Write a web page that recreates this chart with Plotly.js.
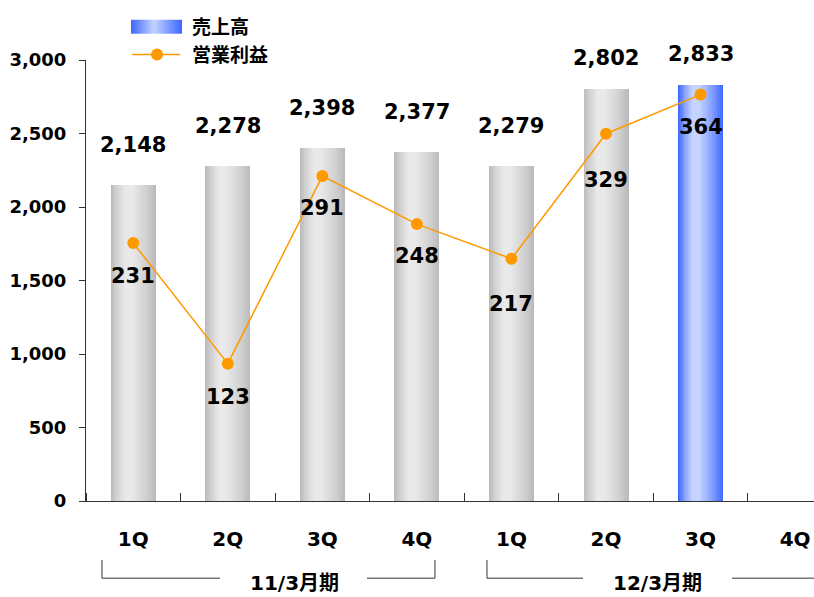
<!DOCTYPE html>
<html><head><meta charset="utf-8">
<script src="https://cdn.plot.ly/plotly-3.0.1.min.js"></script>
<style>html,body{margin:0;padding:0;background:#fff}#chart{width:814px;height:597px}</style>
</head><body><div id="chart"></div>
<script>
// ---- data ----
const quarters = ['1Q','2Q','3Q','4Q','1Q','2Q','3Q','4Q'];
const periods = ['11/3月期','12/3月期'];
const sales = [2148, 2278, 2398, 2377, 2279, 2802, 2833, null];
const profit = [231, 123, 291, 248, 217, 329, 364, null];
const salesName = '売上高';
const profitName = '営業利益';

// ---- style ----
const FONT = '"DejaVu Sans", "Noto Sans CJK JP", sans-serif';
const JFONT = '"Noto Sans CJK JP", sans-serif';
const lastIdx = sales.reduce((a, v, i) => v != null ? i : a, -1);
const idx = quarters.map((_, i) => i);
function lerp(a, b, t) {
  const pa = [1,3,5].map(k => parseInt(a.substr(k,2),16));
  const pb = [1,3,5].map(k => parseInt(b.substr(k,2),16));
  return 'rgb(' + pa.map((v,i)=>Math.round(v+(pb[i]-v)*t)).join(',') + ')';
}
const grayEdge = '#bababa', grayMid = '#e9e9e9';
const blueEdge = '#3d66ff', blueMid = '#c4d3ff';
const W = 0.476, K = 16;
const traces = [];
const groups = [
  {ids: idx.filter(i => sales[i] != null && i !== lastIdx), e: grayEdge, m: grayMid, legend: false},
  {ids: [lastIdx], e: blueEdge, m: blueMid, legend: true}
];
groups.forEach(g => {
  for (let k = 0; k < K; k++) {
    const t = k / (K - 1);
    const w = W * (1 - 0.82 * t);
    const shift = -0.05 * t;
    traces.push({
      type: 'bar', xaxis: 'x', yaxis: 'y',
      x: g.ids, y: g.ids.map(i => sales[i]),
      width: w, offset: -w / 2 + shift,
      marker: {color: lerp(g.e, g.m, Math.pow(t, 0.8)), line: {width: 0}},
      name: salesName,
      showlegend: g.legend && k === Math.round(K * 0.45),
      hoverinfo: 'skip'
    });
  }
});
traces.push({
  type: 'scatter', mode: 'lines+markers', x: idx, y: profit, yaxis: 'y2',
  name: profitName,
  line: {color: '#ff9900', width: 1.5},
  marker: {color: '#ff9900', size: 12}
});

const LBL = {family: FONT, size: 21, color: '#000', weight: 'bold'};
const annotations = [];
sales.forEach((v, i) => {
  if (v == null) return;
  annotations.push({x: i, y: v, xref: 'x', yref: 'y', text: v.toLocaleString('en-US'),
    showarrow: false, yshift: v > 2600 ? 31 : 40, font: LBL});
});
const profitShift = [33, 33, 32, 32, 45, 46, 32];
profit.forEach((v, i) => {
  if (v == null) return;
  annotations.push({x: i, y: v, xref: 'x', yref: 'y2', text: String(v),
    showarrow: false, yshift: -profitShift[i], font: LBL});
});
const periodX = [1.70, 5.54];
periods.forEach((p, j) => {
  annotations.push({x: periodX[j], y: -0.187, xref: 'x', yref: 'paper', yanchor: 'middle', text: p,
    showarrow: false, font: {family: FONT, size: 20, color: '#000', weight: 'bold'}});
});
const ln = {color: '#333', width: 1};
const shapes = [
  {type:'line', xref:'x', yref:'paper', x0:-0.331, x1:-0.331, y0:-0.134, y1:-0.175, line: ln},
  {type:'line', xref:'x', yref:'paper', x0:-0.331, x1:0.917, y0:-0.175, y1:-0.175, line: ln},
  {type:'line', xref:'x', yref:'paper', x0:2.472, x1:3.191, y0:-0.175, y1:-0.175, line: ln},
  {type:'line', xref:'x', yref:'paper', x0:3.191, x1:3.191, y0:-0.134, y1:-0.175, line: ln},
  {type:'line', xref:'x', yref:'paper', x0:3.741, x1:3.741, y0:-0.134, y1:-0.175, line: ln},
  {type:'line', xref:'x', yref:'paper', x0:3.741, x1:4.757, y0:-0.175, y1:-0.175, line: ln},
  {type:'line', xref:'x', yref:'paper', x0:6.332, x1:7.6, y0:-0.175, y1:-0.175, line: ln}
];

const layout = {
  width: 814, height: 597,
  margin: {l: 86, r: 0, t: 60, b: 96},
  paper_bgcolor: '#fff', plot_bgcolor: '#fff',
  barmode: 'overlay', bargap: 0,
  font: {family: FONT, color: '#000'},
  showlegend: true,
  legend: {x: 0.0907, xanchor: 'left', y: 1.118, yanchor: 'top', bgcolor: 'rgba(0,0,0,0)',
    font: {family: JFONT, size: 19, color: '#000', weight: 'bold'}, tracegroupgap: 0},
  xaxis: {range: [-0.5, 7.2], tickvals: idx, ticktext: quarters, ticks: '', showline: true,
    linecolor: '#333', linewidth: 1, showgrid: false, zeroline: false, ticklabelstandoff: 20,
    tickfont: {family: FONT, size: 20, color: '#000', weight: 'bold'},
    minor: {tick0: 0.5, dtick: 1, ticks: 'inside', ticklen: 8, tickcolor: '#333', tickwidth: 1}},
  yaxis: {range: [0, 3000], dtick: 500, tickformat: ',d', ticks: 'outside', ticklen: 6,
    tickcolor: '#333', showline: true, linecolor: '#333', showgrid: false, zeroline: false,
    ticklabelstandoff: 9, tickfont: {family: FONT, size: 18, color: '#000', weight: 'bold'}},
  yaxis2: {overlaying: 'y', range: [0, 395], visible: false},
  annotations: annotations, shapes: shapes
};

// legend symbols reshaped (in the legend item's own coordinates, text sits at x=40)
const NS = 'http://www.w3.org/2000/svg';
function fixLegend(gd) {
  try {
    gd.querySelectorAll('g.legend [clip-path]').forEach(e => e.removeAttribute('clip-path'));
    gd.querySelectorAll('g.legend g.traces').forEach(item => {
      const lp = item.querySelector('g.legendpoints');
      if (!lp) return;
      const isLine = !!item.querySelector('path.js-line');
      const bar = lp.querySelector('path.legendbar') || lp.querySelector('path[class^="legend"]');
      if (bar && !isLine) {
        const svg = bar.ownerSVGElement;
        if (!svg.querySelector('#legendGrad')) {
          let defs = svg.querySelector('defs');
          if (!defs) { defs = document.createElementNS(NS,'defs'); svg.insertBefore(defs, svg.firstChild); }
          const lg = document.createElementNS(NS,'linearGradient');
          lg.setAttribute('id','legendGrad'); lg.setAttribute('x1','0'); lg.setAttribute('x2','1');
          lg.setAttribute('y1','0'); lg.setAttribute('y2','0');
          [[0, blueEdge],[0.45, blueMid],[1, blueEdge]].forEach(([o,c]) => {
            const s = document.createElementNS(NS,'stop');
            s.setAttribute('offset', o); s.setAttribute('stop-color', c); lg.appendChild(s);
          });
          defs.appendChild(lg);
        }
        bar.removeAttribute('transform');
        bar.setAttribute('d', 'M-21,-7H30V7H-21Z');
        bar.style.fill = 'url(#legendGrad)';
      }
      item.querySelectorAll('path.js-line').forEach(line => {
        line.removeAttribute('transform');
        line.setAttribute('d', 'M-20,0H28');
      });
      item.querySelectorAll('g.legendpoints path.scatterpts, g.legendpoints path.point').forEach(pt => {
        pt.setAttribute('transform', 'translate(5,0)');
      });
    });
  } catch (e) { /* keep default legend */ }
}
Plotly.newPlot('chart', traces, layout, {displayModeBar: false, staticPlot: true}).then(gd => {
  fixLegend(gd);
  gd.on('plotly_afterplot', () => fixLegend(gd));
  setTimeout(() => fixLegend(gd), 50);
  setTimeout(() => fixLegend(gd), 300);
});
</script></body></html>
